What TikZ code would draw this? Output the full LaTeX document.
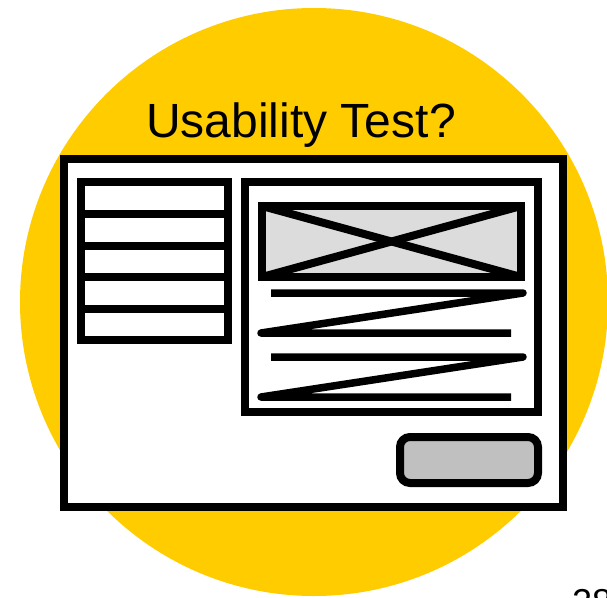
\documentclass[tikz,border=0pt]{standalone}
\usepackage{fontspec}
\setmainfont{Liberation Sans}
\usetikzlibrary{positioning}

\definecolor{sunyellow}{HTML}{FFCC00}
\definecolor{imggray}{HTML}{DCDCDC}
\definecolor{btngray}{HTML}{C0C0C0}

\begin{document}
\begin{tikzpicture}[x=1pt,y=-1pt,line width=8pt,
        textline/.style={line width=7.5pt,line join=round},
        listline/.style={line width=7.5pt}]
        \useasboundingbox (0,0) rectangle (607,597);
        \fill[sunyellow] (314,302) circle (294);
        \node[anchor=base,font=\fontsize{48}{56}\selectfont,inner sep=0pt] (title) at (301,137) {Usability Test?};
        % window
        \filldraw[fill=white] (64,159) rectangle (563,507);
        % menu list
        \draw[listline] (81,182) rectangle (228,340);
        \foreach \y in {214,246,277,309} {
                \draw[listline] (81,\y) -- (228,\y);
        }
        % content panel
        \draw (245,182) rectangle (537.5,412);
        \fill[imggray] (262,206) rectangle (521,277);
        \draw (262,206) -- (521,277);
        \draw (262,277) -- (521,206);
        \draw (262,206) rectangle (521,277);
        \draw[textline] (271,293) -- (523,293) -- (261,333) -- (511,333);
        \draw[textline] (271,357) -- (523,357) -- (261,397) -- (511,397);
        % button
        \filldraw[fill=btngray,rounded corners=10pt] (400,437) rectangle (538,483);
        \node[anchor=base west,font=\fontsize{36}{40}\selectfont,inner sep=0pt] (page) at (568,614) {28};
\end{tikzpicture}
\end{document}
